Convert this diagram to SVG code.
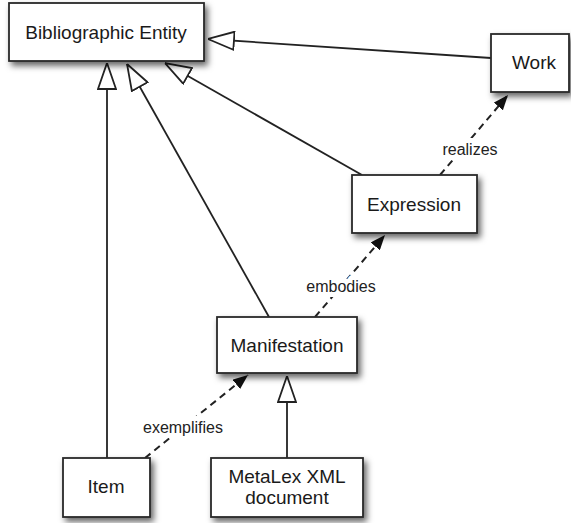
<svg xmlns="http://www.w3.org/2000/svg" width="571" height="523" viewBox="0 0 571 523">
  <style>
    .box { fill: #ffffff; stroke: #2a2a2a; stroke-width: 1.8; filter: url(#shadow); }
    .name { font-family: "Liberation Sans", Arial, sans-serif; font-size: 19px; fill: #1a1a1a; text-anchor: middle; }
    .gen { fill: none; stroke: #222; stroke-width: 1.8; marker-end: url(#hollow); }
    .dep { fill: none; stroke: #222; stroke-width: 2; stroke-dasharray: 7 5; marker-end: url(#solid); }
    .lbl { font-family: "Liberation Sans", Arial, sans-serif; font-size: 16px; fill: #222; text-anchor: middle;
           stroke: #ffffff; stroke-width: 10; paint-order: stroke; stroke-linejoin: round; }
  </style>
  <defs>
    <filter id="shadow" x="-20%" y="-30%" width="150%" height="170%">
      <feDropShadow dx="3" dy="4" stdDeviation="3" flood-color="#000" flood-opacity="0.6"/>
    </filter>
    <marker id="hollow" viewBox="0 0 27 20" refX="27" refY="10" markerWidth="27" markerHeight="20"
            markerUnits="userSpaceOnUse" orient="auto">
      <path d="M1,1 L27,10 L1,19 Z" fill="#fff" stroke="#222" stroke-width="1.8" stroke-linejoin="miter"/>
    </marker>
    <marker id="solid" viewBox="0 0 15 12" refX="15" refY="6" markerWidth="15" markerHeight="12"
            markerUnits="userSpaceOnUse" orient="auto">
      <path d="M0,0 L15,6 L0,12 Z" fill="#111"/>
    </marker>
  </defs>

  <!-- connectors -->
  <g id="connectors">
    <line class="gen" x1="107" y1="458" x2="107" y2="63"/>
    <line class="gen" x1="269" y1="317" x2="127" y2="64"/>
    <line class="gen" x1="362" y1="175" x2="165" y2="63"/>
    <line class="gen" x1="491" y1="58" x2="208" y2="39"/>
    <line class="gen" x1="287" y1="458" x2="287" y2="376"/>
    <line class="dep" x1="440" y1="175" x2="508" y2="95"/>
    <line class="dep" x1="315" y1="317" x2="385" y2="235"/>
    <line class="dep" x1="145" y1="458" x2="248" y2="375"/>
    <text class="lbl" x="470" y="155">realizes</text>
    <text class="lbl" x="341" y="292">embodies</text>
    <text class="lbl" x="183" y="433">exemplifies</text>
  </g>

  <!-- nodes -->
  <g id="bibliographic-entity">
    <rect class="box" x="9" y="3" width="195" height="58"/>
    <text class="name" x="106" y="39">Bibliographic Entity</text>
  </g>
  <g id="work">
    <rect class="box" x="491" y="34" width="78" height="58"/>
    <text class="name" x="534" y="69">Work</text>
  </g>
  <g id="expression">
    <rect class="box" x="352" y="175" width="125" height="58"/>
    <text class="name" x="414" y="211">Expression</text>
  </g>
  <g id="manifestation">
    <rect class="box" x="217" y="317" width="140" height="56"/>
    <text class="name" x="287" y="352">Manifestation</text>
  </g>
  <g id="item">
    <rect class="box" x="63" y="458" width="87" height="59"/>
    <text class="name" x="106" y="493">Item</text>
  </g>
  <g id="metalex-document">
    <rect class="box" x="211" y="458" width="152" height="59"/>
    <text class="name" x="287" y="483">MetaLex XML</text>
    <text class="name" x="287" y="504">document</text>
  </g>
</svg>
